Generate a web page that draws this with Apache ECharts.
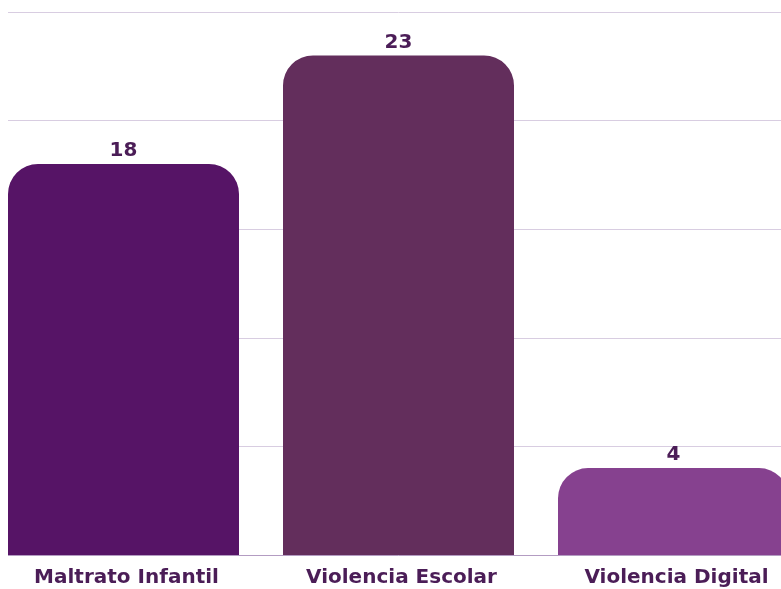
<!DOCTYPE html>
<html>
<head>
<meta charset="utf-8">
<script src="https://cdn.jsdelivr.net/npm/echarts@6/dist/echarts.min.js"></script>
<style>
  html, body { margin: 0; padding: 0; background: #fff; overflow: hidden; }
  #chart { width: 825px; height: 589px; margin-left: -14px; }
</style>
</head>
<body>
<div id="chart"></div>
<script>
const categories = ['Maltrato Infantil', 'Violencia Escolar', 'Violencia Digital'];
const values = [18, 23, 4];
const barColors = ['#561466', '#632E5C', '#86418F'];

const chart = echarts.init(document.getElementById('chart'));

chart.setOption({
  animation: false,
  grid: { left: 0, right: 0, top: 12, bottom: 34, containLabel: false },
  xAxis: {
    type: 'category',
    data: categories,
    axisTick: { show: false },
    axisLine: { lineStyle: { color: '#b39cc2', width: 1 } },
    axisLabel: {
      color: '#4b1d57',
      fontFamily: 'DejaVu Sans',
      fontWeight: 'bold',
      fontSize: 20,
      margin: 13,
      padding: [0, 0, 0, 6]
    }
  },
  yAxis: {
    type: 'value',
    min: 0,
    max: 25,
    interval: 5,
    axisLabel: { show: false },
    axisLine: { show: false },
    axisTick: { show: false },
    splitLine: { lineStyle: { color: '#d8cde1', width: 1 } }
  },
  graphic: [{
    type: 'rect',
    shape: { x: 0, y: 0, width: 22, height: 557 },
    style: { fill: '#fff' },
    z: 1
  }],
  series: [{
    type: 'bar',
    barWidth: 231,
    data: values.map((v, i) => ({ value: v, itemStyle: { color: barColors[i] } })),
    itemStyle: { borderRadius: [30, 30, 0, 0] },
    label: {
      show: true,
      position: 'top',
      distance: 3,
      color: '#4b1d57',
      fontFamily: 'DejaVu Sans',
      fontWeight: 'bold',
      fontSize: 20
    },
    z: 3
  }]
});
</script>
</body>
</html>
